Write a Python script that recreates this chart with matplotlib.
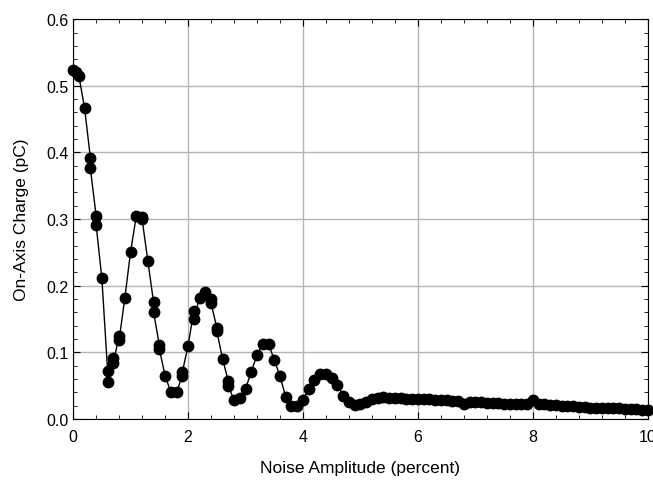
import matplotlib.pyplot as plt
from matplotlib.ticker import MultipleLocator

plt.rcParams['font.family'] = ['Liberation Sans', 'DejaVu Sans']

# noise amplitude (percent) and on-axis charge (pC)
noise_head = [0, 0.05, 0.1, 0.2, 0.3, 0.3, 0.4, 0.4, 0.5, 0.6, 0.6, 0.7, 0.7,
              0.8, 0.8, 0.9, 1.0, 1.1, 1.2, 1.2, 1.3, 1.4, 1.4, 1.5, 1.5, 1.6,
              1.7, 1.8, 1.9, 1.9, 2.0, 2.1, 2.1, 2.2, 2.3, 2.4, 2.4, 2.5, 2.5,
              2.6, 2.7, 2.7, 2.8, 2.9, 3.0, 3.1, 3.2, 3.3, 3.4, 3.5, 3.6, 3.7,
              3.8, 3.9, 4.0, 4.1, 4.2, 4.3, 4.4, 4.5, 4.6, 4.7, 4.8, 4.9]
charge_head = [0.524, 0.520, 0.515, 0.466, 0.392, 0.376, 0.305, 0.291, 0.211,
               0.072, 0.056, 0.092, 0.084, 0.125, 0.118, 0.182, 0.251, 0.305,
               0.303, 0.300, 0.237, 0.175, 0.160, 0.111, 0.105, 0.065, 0.040,
               0.040, 0.065, 0.070, 0.110, 0.162, 0.150, 0.182, 0.190, 0.180,
               0.174, 0.137, 0.132, 0.090, 0.057, 0.050, 0.028, 0.031, 0.045,
               0.071, 0.096, 0.113, 0.112, 0.089, 0.064, 0.033, 0.020, 0.020,
               0.029, 0.045, 0.058, 0.067, 0.068, 0.062, 0.051, 0.035, 0.026,
               0.021]

noise_tail = [5.0, 5.1, 5.2, 5.3, 5.4, 5.5, 5.6, 5.7, 5.8, 5.9, 6.0, 6.1, 6.2,
              6.3, 6.4, 6.5, 6.6, 6.7, 6.8, 6.9, 7.0, 7.1, 7.2, 7.3, 7.4, 7.5,
              7.6, 7.7, 7.8, 7.9, 8.0, 8.1, 8.2, 8.3, 8.4, 8.5, 8.6, 8.7, 8.8,
              8.9, 9.0, 9.1, 9.2, 9.3, 9.4, 9.5, 9.6, 9.7, 9.8, 9.9, 10.0]
charge_tail = [0.022, 0.026, 0.030, 0.032, 0.033, 0.032, 0.031, 0.031, 0.030,
               0.030, 0.030, 0.030, 0.030, 0.029, 0.028, 0.028, 0.027, 0.027,
               0.022, 0.026, 0.025, 0.025, 0.024, 0.024, 0.024, 0.023, 0.023,
               0.023, 0.023, 0.023, 0.028, 0.023, 0.022, 0.021, 0.021, 0.020,
               0.019, 0.019, 0.018, 0.018, 0.017, 0.017, 0.016, 0.016, 0.016,
               0.016, 0.015, 0.015, 0.015, 0.014, 0.014]

noise = noise_head + noise_tail
charge = charge_head + charge_tail

fig = plt.figure(figsize=(6.53, 4.81), dpi=100)
ax = fig.add_axes([0.112, 0.127, 0.88, 0.831])

ax.plot(noise, charge, color='black', linewidth=1, marker='o',
        markersize=7.5, markerfacecolor='black', markeredgecolor='black',
        zorder=3, clip_on=False)

ax.set_xlim(0, 10)
ax.set_ylim(0, 0.6)
ax.xaxis.set_major_locator(MultipleLocator(2))
ax.xaxis.set_minor_locator(MultipleLocator(0.4))
ax.yaxis.set_major_locator(MultipleLocator(0.1))
ax.yaxis.set_minor_locator(MultipleLocator(0.02))
ax.set_yticklabels([f'{v:.1f}' for v in ax.get_yticks()])

ax.grid(True, which='major', color='#b4b4b4', linewidth=1)
ax.set_axisbelow(True)
ax.tick_params(which='both', direction='in', top=True, right=True,
               labelsize=11.5, colors='black')
ax.tick_params(which='major', length=5)
ax.tick_params(which='minor', length=3)
ax.tick_params(axis='x', pad=7)

ax.set_xlabel('Noise Amplitude (percent)', fontsize=12.5, labelpad=12)
ax.set_ylabel('On-Axis Charge (pC)', fontsize=12.5, labelpad=12)

fig.savefig('out.png', dpi=100)
